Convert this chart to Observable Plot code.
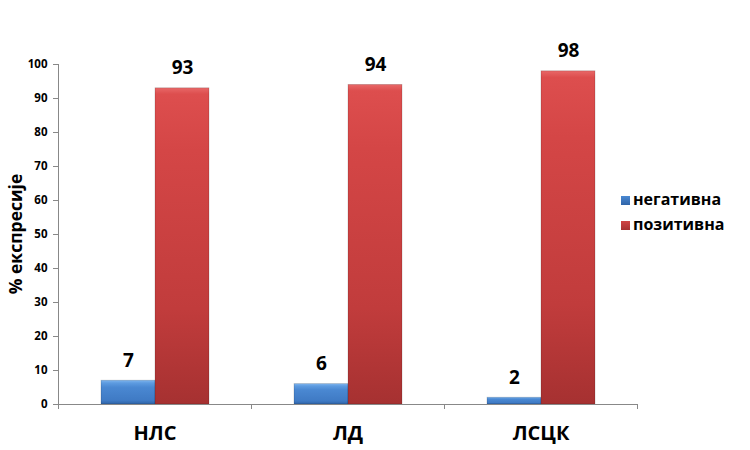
<!DOCTYPE html>
<html>
<head>
<meta charset="utf-8">
<script src="https://cdn.jsdelivr.net/npm/d3@7"></script>
<script src="https://cdn.jsdelivr.net/npm/@observablehq/plot@0.6"></script>
<style>
  html, body { margin: 0; padding: 0; background: #fff; }
  #wrap { position: relative; width: 750px; height: 450px; font-family: "Open Sans", "Noto Sans", sans-serif; }
  #legend { position: absolute; left: 621px; top: 187px; font-weight: bold; font-size: 16px; color: #000; line-height: 25px; }
  #legend .sw { display: inline-block; width: 9px; height: 9px; margin-right: 3px; vertical-align: 0px; }
</style>
</head>
<body>
<div id="wrap">
  <div id="chart"></div>
  <div id="legend"></div>
</div>
<script>
const categories = ["НЛС", "ЛД", "ЛСЦК"];
const seriesNames = ["негативна", "позитивна"];
const negativna = [7, 6, 2];
const pozitivna = [93, 94, 98];
const yTicks = [0, 10, 20, 30, 40, 50, 60, 70, 80, 90, 100];
const yLabel = "% експресије";

const data = [];
categories.forEach((c, i) => {
  data.push({cat: c, series: seriesNames[0], value: negativna[i]});
  data.push({cat: c, series: seriesNames[1], value: pozitivna[i]});
});

const plot = Plot.plot({
  width: 750,
  height: 450,
  marginLeft: 57,
  marginRight: 112,
  marginTop: 64,
  marginBottom: 46,
  style: {fontFamily: '"Open Sans", "Noto Sans", sans-serif', color: "#000", background: "#fff"},
  fx: {domain: categories, padding: 0, label: null, axis: "bottom", tickSize: 0, tickPadding: 21},
  x: {domain: seriesNames, paddingInner: 0, paddingOuter: 0.76, axis: null},
  y: {domain: [0, 100], ticks: yTicks, label: null, axis: null},
  color: {domain: seriesNames, range: ["url(#gradBlue)", "url(#gradRed)"]},
  marks: [
    Plot.axisY({ticks: yTicks, tickSize: 5, tickPadding: 6, label: null, fontSize: 11.5, fontWeight: "bold", stroke: "#888"}),
    Plot.barY(data, {fx: "cat", x: "series", y: "value", fill: "series", stroke: "#00000030", strokeWidth: 0.8}),
    Plot.ruleY([0], {stroke: "#888"}),
    Plot.text(data, {fx: "cat", x: "series", y: "value", text: d => String(d.value), dy: -20, fontSize: 19, fontWeight: "bold", fill: "#000"})
  ]
});

// gradients
const svg = d3.select(plot);
const defs = svg.insert("defs", ":first-child");
const gb = defs.append("linearGradient").attr("id", "gradBlue").attr("x1", 0).attr("y1", 0).attr("x2", 0).attr("y2", 1);
[["0%", "#7db4ee"], ["12%", "#5d9be0"], ["30%", "#4a88d2"], ["85%", "#3f7ac4"], ["100%", "#2f64a8"]].forEach(([o, c]) => gb.append("stop").attr("offset", o).attr("stop-color", c));
const gr = defs.append("linearGradient").attr("id", "gradRed").attr("x1", 0).attr("y1", 0).attr("x2", 0).attr("y2", 1);
[["0%", "#e86868"], ["2%", "#dd4e4e"], ["20%", "#d44646"], ["70%", "#c13c3c"], ["100%", "#a63131"]].forEach(([o, c]) => gr.append("stop").attr("offset", o).attr("stop-color", c));

// y-axis line and category boundary ticks via the plot's scales
const ys = plot.scale("y");
const fxs = plot.scale("fx");
const y0 = ys.apply(0), y100 = ys.apply(100);
const left = fxs.apply(categories[0]);
svg.append("line").attr("x1", left + 0.5).attr("x2", left + 0.5).attr("y1", y100).attr("y2", y0).attr("stroke", "#888");
const edges = categories.map(c => fxs.apply(c)).concat([fxs.apply(categories[categories.length - 1]) + fxs.bandwidth]);
edges.forEach(e => {
  svg.append("line").attr("x1", e + 0.5).attr("x2", e + 0.5).attr("y1", y0).attr("y2", y0 + 5).attr("stroke", "#888");
});

// axis label
svg.append("text").attr("transform", `translate(22,${(y0 + y100) / 2}) rotate(-90)`)
  .attr("text-anchor", "middle").attr("font-size", 17.5).attr("font-weight", "bold").attr("fill", "#000").text(yLabel);

// category label styling
svg.selectAll("g[aria-label='fx-axis tick label'] text, g[aria-label='fx-axis tick label']").attr("font-size", 20).attr("font-weight", "bold");

document.getElementById("chart").appendChild(plot);

// legend
const lg = document.getElementById("legend");
const legendColors = ["#4a88d2", "#d04444"];
seriesNames.forEach((s, i) => {
  const row = document.createElement("div");
  row.innerHTML = `<span class="sw" style="background:linear-gradient(${legendColors[i]}, ${i ? '#a63131' : '#2f64a8'})"></span>${s}`;
  lg.appendChild(row);
});
</script>
</body>
</html>
